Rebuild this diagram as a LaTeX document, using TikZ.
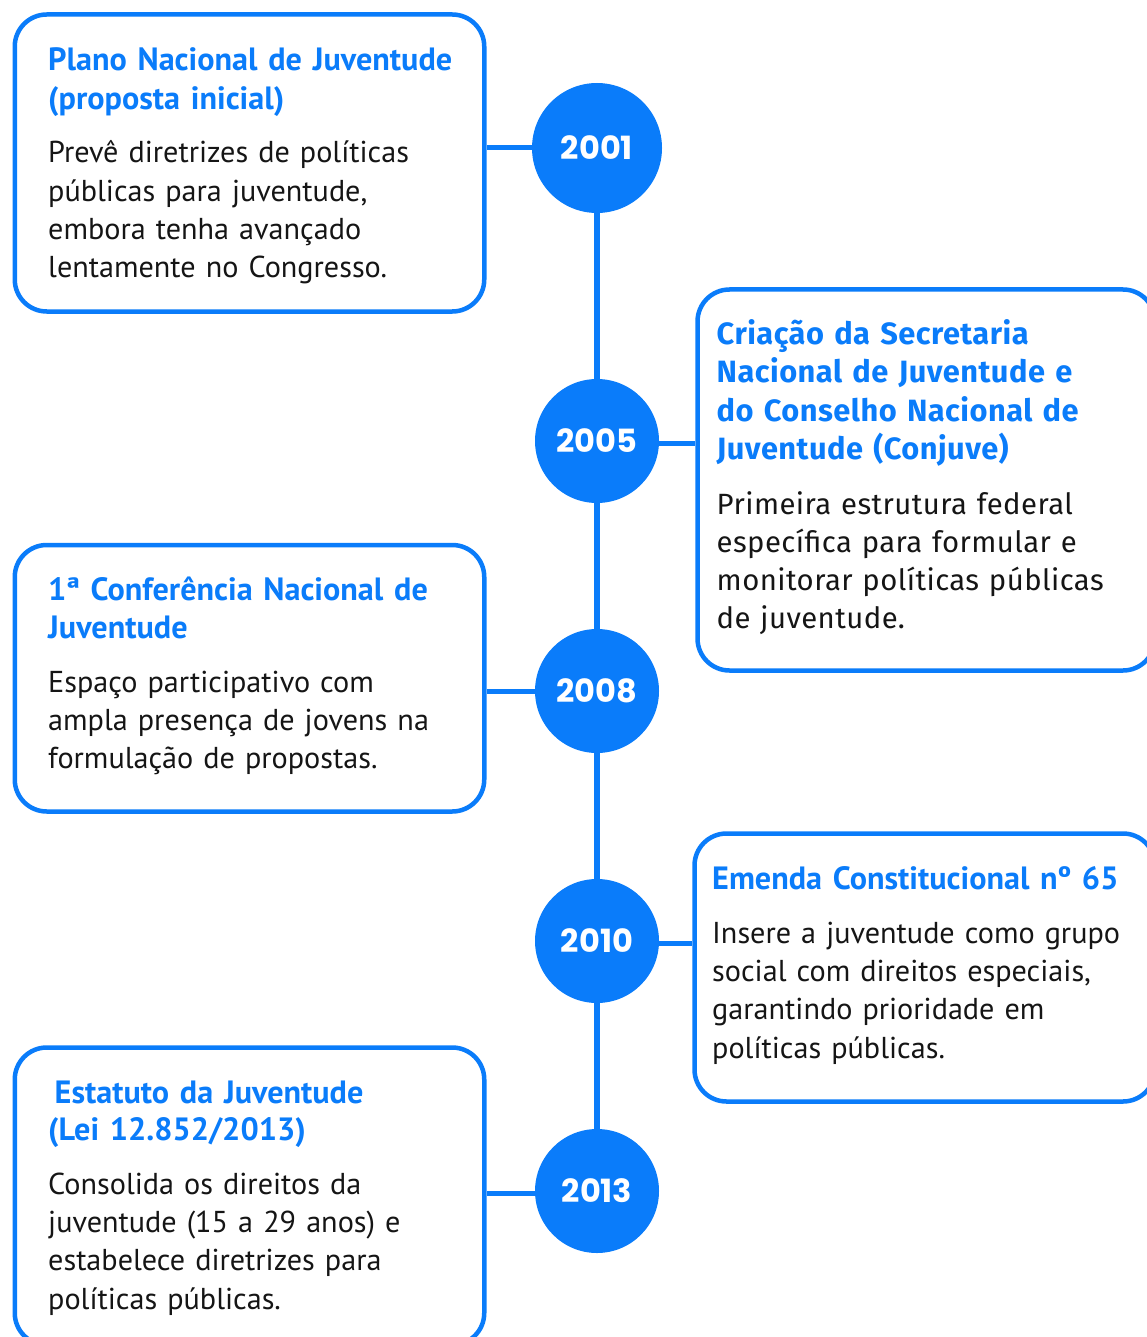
\documentclass[tikz,border=0pt]{standalone}
\usepackage{fontspec}
\setmainfont{PT Sans}
\newfontfamily\firafont{Fira Sans}[LetterSpace=1.5]
\newfontfamily\yearfont{Poppins}
\definecolor{tblue}{HTML}{0A7CFA}
\definecolor{tdark}{HTML}{151515}
\tikzset{
  card/.style={draw=tblue, line width=4.5pt, rounded corners=32pt, fill=white, inner sep=0pt},
  yearball/.style={circle, fill=tblue, inner sep=0pt, text=white, font=\yearfont\bfseries\fontsize{32}{32}\selectfont},
  spine/.style={draw=tblue, line width=5.5pt},
  link/.style={draw=tblue, line width=5pt},
  ttl/.style={anchor=base west, inner sep=0pt, text width=470pt, align=left, text=tblue, font=\bfseries\fontsize{32.2}{38.4}\selectfont},
  txt/.style={anchor=base west, inner sep=0pt, text width=470pt, align=left, text=tdark, font=\fontsize{30.2}{38.4}\selectfont},
  ttlf/.style={ttl, font=\firafont\bfseries\fontsize{30.8}{38.6}\selectfont},
  txtf/.style={txt, font=\firafont\fontsize{29.3}{38.3}\selectfont},
}
\begin{document}
\begin{tikzpicture}[x=1pt,y=-1pt]
\useasboundingbox (0,0) rectangle (1147,1337);
% cards
\node[card, minimum width=469.5pt, minimum height=297pt] (b1) at (249.5,163) {};
\node[card, minimum width=457.5pt, minimum height=381pt] (b2) at (926.25,480) {};
\node[card, minimum width=469.5pt, minimum height=266.5pt] (b3) at (249.5,678.25) {};
\node[card, minimum width=460.5pt, minimum height=268pt] (b4) at (924.75,967.5) {};
\node[card, minimum width=469.5pt, minimum height=297.5pt] (b5) at (249.5,1196.25) {};
% year circles
\node[yearball, minimum size=130pt] (c1) at (597,148) {2001};
\node[yearball, minimum size=124pt] (c2) at (597,441) {2005};
\node[yearball, minimum size=124pt] (c3) at (597,691) {2008};
\node[yearball, minimum size=124pt] (c4) at (597,941) {2010};
\node[yearball, minimum size=124pt] (c5) at (597,1191) {2013};
% spine
\draw[spine] (c1) -- (c2);
\draw[spine] (c2) -- (c3);
\draw[spine] (c3) -- (c4);
\draw[spine] (c4) -- (c5);
% connectors
\draw[link] (c1.west) -- (c1.west -| b1.east);
\draw[link] ([yshift=-2pt]c2.east) -- ([yshift=-2pt]c2.east -| b2.west);
\draw[link] (c3.west) -- (c3.west -| b3.east);
\draw[link] ([yshift=-2pt]c4.east) -- ([yshift=-2pt]c4.east -| b4.west);
\draw[link] ([yshift=-2pt]c5.west) -- ([yshift=-2pt]c5.west -| b5.east);
% texts
\node[ttl] (t1) at (48,71) {Plano Nacional de Juventude\\(proposta inicial)};
\node[txt] (d1) at (48,162.7) {Prevê diretrizes de políticas\\públicas para juventude,\\embora tenha avançado\\lentamente no Congresso.};
\node[ttlf] (t2) at (716.5,344) {Criação da Secretaria\\Nacional de Juventude e\\do Conselho Nacional de\\Juventude (Conjuve)};
\node[txtf] (d2) at (716.5,514) {Primeira estrutura federal\\específica para formular e\\monitorar políticas públicas\\de juventude.};
\node[ttl] (t3) at (48,600) {1ª Conferência Nacional de\\Juventude};
\node[txt] (d3) at (48,692) {Espaço participativo com\\ampla presença de jovens na\\formulação de propostas.};
\node[ttl] (t4) at (712,889) {Emenda Constitucional nº 65};
\node[txt] (d4) at (712,943) {Insere a juventude como grupo\\social com direitos especiais,\\garantindo prioridade em\\políticas públicas.};
\node[ttl, font=\bfseries\fontsize{32.2}{37}\selectfont] (t5) at (48,1103) {\hspace*{6.5pt}Estatuto da Juventude\\(Lei 12.852/2013)};
\node[txt] (d5) at (48,1194) {Consolida os direitos da\\juventude (15 a 29 anos) e\\estabelece diretrizes para\\políticas públicas.};
\end{tikzpicture}
\end{document}
